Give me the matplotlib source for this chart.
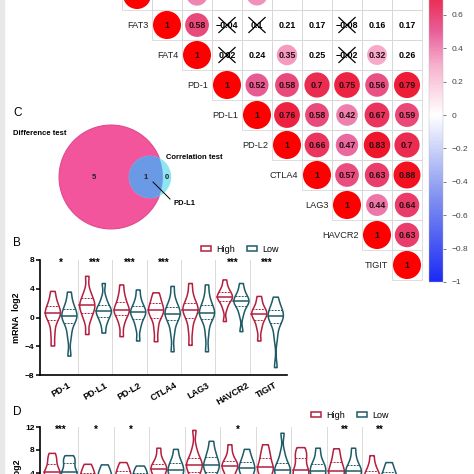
import numpy as np
import matplotlib
matplotlib.use("Agg")
import matplotlib.pyplot as plt
from matplotlib import cbook, mlab
from matplotlib.cm import ScalarMappable
from matplotlib.colors import LinearSegmentedColormap, Normalize
from matplotlib.patches import Circle, Patch, Rectangle

plt.rcParams["font.family"] = ["Liberation Sans", "DejaVu Sans"]

W = H = 474

# ---------------- data ----------------
genes = ["FAT1", "FAT3", "FAT4", "PD-1", "PD-L1", "PD-L2", "CTLA4", "LAG3", "HAVCR2", "TIGIT"]
# upper triangle, each row starts at the diagonal (first row is cut off by the crop)
corr_rows = [
    [1, 0.1, 0.4, 0.2, 0.38, 0.2, 0.2, 0.15, 0.22, 0.18],
    [1, 0.58, -0.04, 0.1, 0.21, 0.17, -0.08, 0.16, 0.17],
    [1, 0.02, 0.24, 0.35, 0.25, -0.02, 0.32, 0.26],
    [1, 0.52, 0.58, 0.7, 0.75, 0.56, 0.79],
    [1, 0.76, 0.58, 0.42, 0.67, 0.59],
    [1, 0.66, 0.47, 0.83, 0.7],
    [1, 0.57, 0.63, 0.88],
    [1, 0.44, 0.64],
    [1, 0.63],
    [1],
]
crossed = [(1, 3), (1, 4), (1, 7), (2, 3), (2, 7)]  # (row, col) not significant
cbar_ticks = [-1, -0.8, -0.6, -0.4, -0.2, 0, 0.2, 0.4, 0.6]

venn_sets = ["Difference test", "Correlation test"]
venn_sizes = [6, 1]
venn_counts = [5, 1, 0]  # only diff, both, only corr
venn_shared = "PD-L1"

b_genes = ["PD-1", "PD-L1", "PD-L2", "CTLA4", "LAG3", "HAVCR2", "TIGIT"]
b_stars = ["*", "***", "***", "***", "", "***", "***"]
b_high = [
    [-3.9, -2.2, -0.8, 0.0, 0.35, 0.65, 0.95, 1.35, 1.85, 2.6, 3.7],
    [-2.3, -0.4, 0.35, 0.95, 1.35, 1.7, 2.0, 2.45, 2.95, 3.8, 5.8],
    [-2.6, -0.9, 0.0, 0.6, 0.85, 1.1, 1.4, 1.9, 2.5, 3.3, 4.6],
    [-3.3, -1.6, -0.35, 0.35, 0.7, 1.0, 1.3, 1.7, 2.2, 2.8, 3.5],
    [-3.8, -1.8, -0.4, 0.4, 0.8, 1.1, 1.4, 1.75, 2.25, 3.2, 4.8],
    [-0.5, 1.3, 2.05, 2.55, 2.75, 2.9, 3.1, 3.4, 3.8, 4.3, 5.3],
    [-3.2, -1.6, -0.7, -0.1, 0.25, 0.55, 0.75, 1.0, 1.4, 2.1, 3.0],
]
b_low = [
    [-5.3, -2.6, -1.2, -0.3, -0.05, 0.2, 0.5, 0.95, 1.45, 2.2, 3.6],
    [-2.1, -0.8, -0.2, 0.4, 0.65, 0.9, 1.15, 1.45, 1.95, 2.8, 4.8],
    [-3.2, -1.4, -0.5, 0.2, 0.5, 0.75, 1.0, 1.35, 1.85, 2.6, 3.9],
    [-4.7, -2.2, -0.8, 0.0, 0.3, 0.55, 0.85, 1.25, 1.75, 2.6, 4.4],
    [-4.7, -2.2, -0.6, 0.2, 0.45, 0.65, 0.95, 1.4, 2.0, 2.9, 4.6],
    [-1.9, 0.4, 1.3, 1.9, 2.1, 2.3, 2.5, 2.8, 3.2, 3.8, 4.8],
    [-6.9, -2.8, -1.2, -0.3, -0.05, 0.2, 0.45, 0.8, 1.2, 1.9, 2.9],
]

d_stars = ["***", "*", "*", "", "", "*", "", "", "**", "**"]
d_high = [
    [0.5, 2.0, 3.0, 3.6, 3.9, 4.2, 4.6, 5.2, 6.0, 6.7, 7.5],
    [-1.5, 0.5, 1.5, 2.2, 2.6, 3.0, 3.4, 3.8, 4.3, 4.9, 5.6],
    [-1.0, 0.8, 1.8, 2.5, 2.9, 3.3, 3.7, 4.1, 4.6, 5.2, 5.9],
    [0.5, 2.2, 3.2, 3.9, 4.3, 4.7, 5.1, 5.4, 5.8, 6.8, 8.4],
    [1.0, 2.8, 3.8, 4.6, 5.0, 5.4, 5.8, 6.3, 6.9, 8.3, 11.5],
    [0.8, 2.5, 3.5, 4.3, 4.8, 5.2, 5.5, 5.9, 6.3, 7.4, 9.0],
    [0.6, 2.4, 3.4, 4.2, 4.6, 5.0, 5.5, 6.2, 7.0, 7.8, 9.0],
    [0.3, 2.0, 3.0, 3.7, 4.1, 4.5, 5.2, 6.2, 7.0, 7.7, 8.5],
    [0.2, 1.9, 3.0, 3.7, 4.1, 4.4, 4.9, 5.6, 6.2, 7.2, 8.3],
    [-1.0, 0.8, 1.8, 2.5, 2.9, 3.3, 3.7, 4.1, 4.7, 5.6, 7.1],
]
d_low = [
    [0.0, 1.8, 2.8, 3.4, 3.8, 4.1, 4.5, 5.3, 6.1, 6.5, 7.1],
    [-1.8, 0.2, 1.2, 1.9, 2.3, 2.7, 3.1, 3.6, 4.1, 4.7, 5.5],
    [-1.5, 0.4, 1.4, 2.1, 2.5, 2.9, 3.3, 3.7, 4.2, 4.7, 5.3],
    [0.3, 2.0, 3.0, 3.7, 4.1, 4.5, 5.0, 5.4, 6.0, 6.8, 8.2],
    [0.8, 2.6, 3.7, 4.5, 5.0, 5.4, 5.8, 6.4, 7.2, 8.0, 9.6],
    [0.2, 2.0, 3.1, 3.9, 4.4, 4.8, 5.2, 5.7, 6.3, 7.0, 8.2],
    [0.4, 2.2, 3.2, 3.8, 4.2, 4.6, 5.0, 5.4, 6.2, 7.6, 11.0],
    [0.0, 1.8, 2.9, 3.6, 4.0, 4.4, 4.9, 5.4, 5.8, 6.9, 8.4],
    [0.0, 1.8, 2.8, 3.5, 3.9, 4.3, 4.7, 5.1, 5.7, 6.8, 8.4],
    [-1.2, 0.6, 1.6, 2.3, 2.7, 3.1, 3.5, 3.9, 4.4, 5.1, 5.9],
]

HIGH = "#b41f3f"
LOW = "#1e5b67"

cmap = LinearSegmentedColormap.from_list(
    "corr",
    [(0.0, "#1a2af5"), (0.25, "#8090f0"), (0.5, "#ffffff"), (0.65, "#f7b0cc"),
     (0.75, "#e8609a"), (0.85, "#ea2c52"), (0.925, "#f01428"), (1.0, "#ff0000")],
)
norm = Normalize(-1, 1)


def box(l, t, r, b):
    return [l / W, 1 - b / H, (r - l) / W, (b - t) / H]


def fmt(v):
    return f"{v:g}".replace("-", "\u2212")


def violin(ax, data, pos, color, width=0.44, bw=0.36):
    st = cbook.violin_stats([data], lambda X, c: mlab.GaussianKDE(X, bw).evaluate(c))[0]
    coords, vals = st["coords"], st["vals"]
    half = 0.5 * width * vals / vals.max()
    ax.fill_betweenx(coords, pos - half, pos + half, facecolor="white",
                     edgecolor=color, lw=1.1, zorder=2)
    q1, med, q3 = np.percentile(data, [25, 50, 75])
    for q, ls, lw in [(q1, (0, (2, 1.2)), 0.7), (med, "-", 1.1), (q3, (0, (2, 1.2)), 0.7)]:
        w = np.interp(q, coords, half)
        ax.plot([pos - w, pos + w], [q, q], color=color, ls=ls, lw=lw, zorder=3)


def violin_panel(ax, high, low, stars, star_y, off=0.24):
    n = len(high)
    for i in range(n):
        violin(ax, high[i], i - off, HIGH)
        violin(ax, low[i], i + off, LOW)
        ax.text(i, star_y, stars[i], ha="center", va="center", fontsize=7, fontweight="bold")
    for i in range(n - 1):
        ax.axvline(i + 0.5, color="#dadada", lw=0.7, zorder=0)
    for s in ["top", "right"]:
        ax.spines[s].set_visible(False)
    for s in ["left", "bottom"]:
        ax.spines[s].set_linewidth(1.2)
    ax.tick_params(axis="y", length=3, width=1.1, labelsize=6, pad=1)
    ax.tick_params(axis="x", length=0)
    for t in ax.get_yticklabels():
        t.set_fontweight("bold")
    ax.set_ylabel("mRNA  log2", fontsize=6.5, fontweight="bold")


def legend(x, y):
    handles = [Patch(facecolor="white", edgecolor=HIGH, lw=1.1, label="High"),
               Patch(facecolor="white", edgecolor=LOW, lw=1.1, label="Low")]
    fig.legend(handles=handles, loc="center left", bbox_to_anchor=(x / W, 1 - y / H),
               ncol=2, frameon=False, fontsize=6.5, handlelength=1.1, handleheight=0.55,
               handletextpad=0.6, columnspacing=1.3, borderpad=0, borderaxespad=0)


fig = plt.figure(figsize=(W / 100, H / 100), dpi=100)
fig.patches.append(Rectangle((0, 0), 4 / W, 1, transform=fig.transFigure,
                             color="#e8e8e8", zorder=0))

# ---------------- A: correlation ----------------
ax_a = fig.add_axes(box(122, -20, 422, 280))
ax_a.set_xlim(-0.5, 9.5)
ax_a.set_ylim(9.5, -0.5)
ax_a.axis("off")
for i, row in enumerate(corr_rows):
    show_text = i > 0  # the first row is cut off by the crop of the original figure
    for k, v in enumerate(row):
        j = i + k
        ax_a.add_patch(Rectangle((j - 0.5, i - 0.5), 1, 1, fill=False, ec="#d8d8d8",
                                 lw=0.6, clip_on=False))
        if (i, j) in crossed:
            ax_a.text(j, i, fmt(v), ha="center", va="center", fontsize=6.4,
                      fontweight="bold", color="black")
            ax_a.plot([j - 0.27, j + 0.27], [i - 0.25, i + 0.25], color="black", lw=0.9)
            ax_a.plot([j - 0.27, j + 0.27], [i + 0.25, i - 0.25], color="black", lw=0.9)
            continue
        tc = "black"
        if abs(v) >= 0.3:
            ax_a.add_patch(Circle((j, i), 0.467 * abs(v) ** 0.3, color=cmap(norm(v)), lw=0))
            tc = "#2b0a12"
        if show_text:
            ax_a.text(j, i, fmt(v), ha="center", va="center", fontsize=6.4,
                      fontweight="bold", color=tc)
    if show_text:
        ax_a.text(i - 1 + 0.38, i, genes[i], ha="right", va="center", fontsize=6.6,
                  color="#222222", clip_on=False)

cax = fig.add_axes(box(429, -52, 443, 282))
cb = fig.colorbar(ScalarMappable(norm=norm, cmap=cmap), cax=cax, ticks=cbar_ticks)
cb.set_ticklabels([fmt(round(t, 1)) for t in cbar_ticks])
cb.outline.set_linewidth(0.3)
cb.outline.set_edgecolor("#bbbbbb")
cax.tick_params(length=2, width=0.5, labelsize=6, colors="#444444", pad=4)

# ---------------- C: venn ----------------
ax_c = fig.add_axes(box(0, 95, 240, 240))
ax_c.set_xlim(0, 240)
ax_c.set_ylim(240, 95)
ax_c.axis("off")
k = 21.2
r_diff, r_corr = k * np.sqrt(venn_sizes[0]), k * np.sqrt(venn_sizes[1])
c_diff, c_corr = (111, 177), (150, 177)
pink = Circle(c_diff, r_diff, fc="#f2559c", ec="#e04a8c", lw=0.8)
ax_c.add_patch(pink)
ax_c.add_patch(Circle(c_corr, r_corr, fc="#8ee6f2", ec="none"))
inter = Circle(c_corr, r_corr, fc="#6a9ae6", ec="none")
ax_c.add_patch(inter)
inter.set_clip_path(pink)
for x, n in zip([94, 146, 167], venn_counts):
    ax_c.text(x, 177, str(n), ha="center", va="center", fontsize=5.5,
              fontweight="bold", color="#222222")
ax_c.plot([153, 170], [182, 199], color="black", lw=0.7)
ax_c.text(173, 203, venn_shared, ha="left", va="center", fontsize=5.5, fontweight="bold")
ax_c.text(13, 133, venn_sets[0], ha="left", va="center", fontsize=5.5, fontweight="bold")
ax_c.text(166, 157, venn_sets[1], ha="left", va="center", fontsize=5.5, fontweight="bold")

# ---------------- B: violins ----------------
ax_b = fig.add_axes(box(40, 260, 287, 375))
ax_b.set_xlim(-0.6, len(b_genes) - 0.42)
ax_b.set_ylim(-8, 8)
ax_b.set_yticks([-8, -4, 0, 4, 8])
violin_panel(ax_b, b_high, b_low, b_stars, 7.6)
ax_b.set_xticks(range(len(b_genes)))
ax_b.set_xticklabels(b_genes, rotation=30, ha="center", fontsize=6.5, fontweight="bold")
ax_b.tick_params(axis="x", pad=4)
ax_b.yaxis.set_label_coords(-0.075, 0.5)
legend(201, 249)

# ---------------- D: violins (cut off at the bottom) ----------------
ax_d = fig.add_axes(box(40, 427, 400, 542))
ax_d.set_xlim(-0.57, len(d_high) - 0.44)
ax_d.set_ylim(-8, 12)
ax_d.set_yticks([4, 8, 12])
violin_panel(ax_d, d_high, d_low, d_stars, 11.5)
ax_d.set_xticks([])
ax_d.yaxis.set_label_coords(-0.05, 0.5)
legend(311, 415)

for lab, y in [("C", 113), ("B", 243), ("D", 412)]:
    fig.text(13 / W, 1 - y / H, lab, ha="left", va="center", fontsize=8.5)

fig.savefig("out.png", dpi=100)
plt.close(fig)
